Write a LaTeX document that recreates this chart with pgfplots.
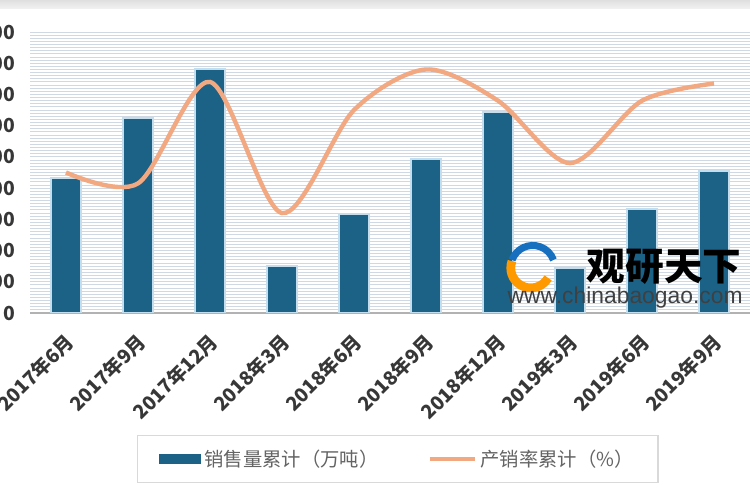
\documentclass[border=0pt]{standalone}
\usepackage{pgfplots}
\pgfplotsset{compat=1.18}
\usepackage{fontspec}
\setmainfont{Noto Sans CJK SC}
\newfontfamily\latinfont{Liberation Sans}
\definecolor{barblue}{RGB}{28,98,135}
\definecolor{baredge}{RGB}{196,222,238}
\definecolor{lineorange}{RGB}{242,168,128}
\definecolor{gridc}{RGB}{208,216,228}
\definecolor{txt}{RGB}{55,55,55}
\definecolor{legtxt}{RGB}{100,100,100}

\pgfplotstableread{
x sales
0 432
1 625
2 782
3 151
4 317
5 493
6 644
7 144
8 333
9 455
}\salesdata

\pgfplotstableread{
x rate
0 97.0
1 96.3
2 102.8
3 94.4
4 101.0
5 103.6
6 101.6
7 97.6
8 101.6
9 102.7
}\ratedata

\begin{document}
\begin{tikzpicture}
\begin{scope}[x=0.02cm,y=0.02cm]
\fill[white] (0,0) rectangle (750,500);
\shade[top color=gray!25, bottom color=gray!10] (0,491) rectangle (750,500);
\end{scope}

\begin{axis}[
  at={(0.6cm,3.74cm)}, anchor=south west,
  scale only axis, width=14.4cm, height=5.62cm,
  xmin=-0.5, xmax=9.5, ymin=0, ymax=900,
  ytick={0,100,...,900},
  minor y tick num=9,
  ymajorgrids, yminorgrids,
  major grid style={gridc, line width=0.55pt},
  minor grid style={gridc, line width=0.55pt},
  axis x line*=bottom, axis y line*=left,
  y axis line style={draw=none},
  x axis line style={draw=gray!60, line width=1pt},
  major tick length=0pt, minor tick length=0pt,
  xtick={0,...,9},
  xticklabels={2017年6月,2017年9月,2017年12月,2018年3月,2018年6月,2018年9月,2018年12月,2019年3月,2019年6月,2019年9月},
  x tick label style={rotate=45, anchor=north east, font=\fontsize{11}{13}\selectfont\bfseries, text=txt, xshift=-5pt, yshift=-3pt},
  y tick label style={font=\fontsize{11}{12}\selectfont\bfseries, text=txt, xshift=-5pt},
  /pgf/number format/assume math mode=true,
  ybar, bar width=0.6cm,
  legend style={at={(0.511,-0.52)}, anchor=center, legend columns=2,
    draw=gray!30, line width=0.8pt, fill=white,
    font=\fontsize{11}{13}\selectfont, text=legtxt,
    inner xsep=12pt, inner ysep=6pt,
    /tikz/every even column/.append style={column sep=26pt}},
]
\addplot[fill=barblue, draw=baredge, line width=1.2pt,
  legend image code/.code={\fill[barblue] (0cm,-0.08cm) rectangle (0.8cm,0.08cm);}]
  table[x=x, y=sales] {\salesdata};
\addlegendentry{销售量累计（万吨）}
\addlegendimage{lineorange, line width=2.5pt, legend image code/.code={\draw[lineorange, line width=2.5pt] (0cm,0cm) -- (0.9cm,0cm);}}
\addlegendentry{产销率累计（\%）}
\end{axis}

\begin{axis}[
  at={(0.6cm,3.74cm)}, anchor=south west,
  scale only axis, width=14.4cm, height=5.62cm,
  xmin=-0.5, xmax=9.5, ymin=88, ymax=106,
  hide axis,
]
\addplot[lineorange, line width=2.5pt, smooth, no markers] table[x=x, y=rate] {\ratedata};
\end{axis}

\begin{scope}[x=0.02cm,y=0.02cm]
% watermark logo
\draw[orange!80!yellow, line width=5pt] (548,222) arc[start angle=-30, end angle=-200, radius=20];
\draw[cyan!50!blue, line width=4pt] (512,240) arc[start angle=160, end angle=20, radius=22];
\node[font=\fontsize{22}{24}\selectfont\bfseries, text=black] at (664,233) {观研天下};
\node[font=\latinfont\fontsize{13}{15}\selectfont, text=black!75] at (625,202) {www.chinabaogao.com};
\end{scope}

\pgfresetboundingbox
\path[use as bounding box] (0,0) rectangle (15cm,10cm);
\end{tikzpicture}
\end{document}
